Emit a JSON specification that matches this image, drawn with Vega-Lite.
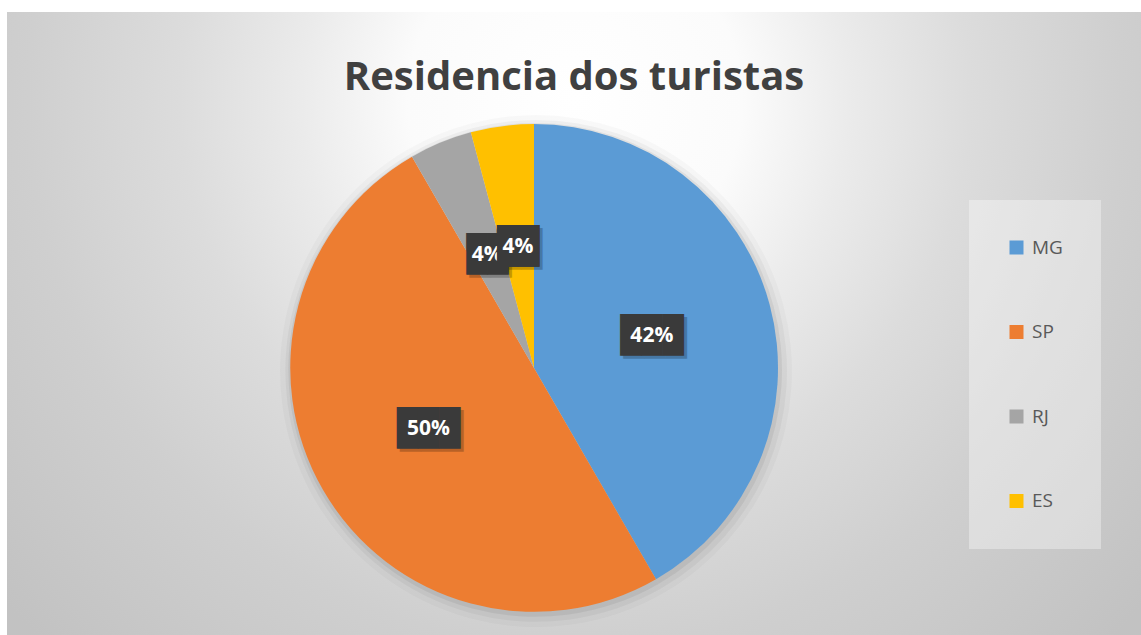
{
  "$schema": "https://vega.github.io/schema/vega-lite/v6.json",
  "width": 1134,
  "height": 623,
  "padding": {"left": 7, "top": 12, "right": 0, "bottom": 0},
  "background": "#ffffff",
  "config": {"view": {"stroke": null}},
  "title": {
    "text": "Residencia dos turistas",
    "font": "Open Sans",
    "fontSize": 40,
    "fontWeight": "bold",
    "color": "#404040",
    "anchor": "middle",
    "frame": "group",
    "offset": -118,
    "baseline": "alphabetic"
  },
  "data": {
    "values": [
      {"estado": "MG", "n": 10, "ord": 1, "label": "42%"},
      {"estado": "SP", "n": 12, "ord": 2, "label": "50%"},
      {"estado": "RJ", "n": 1, "ord": 3, "label": "4%"},
      {"estado": "ES", "n": 1, "ord": 4, "label": "4%"}
    ]
  },
  "layer": [
    {
      "data": {"values": [{"bg": 1}]},
      "mark": {
        "type": "rect",
        "fill": {
          "gradient": "radial",
          "x1": 0.5009, "y1": 0.3029, "r1": 0,
          "x2": 0.5009, "y2": 0.3029, "r2": 0.67,
          "stops": [
            {"offset": 0, "color": "#ffffff"},
            {"offset": 0.22, "color": "#fbfbfb"},
            {"offset": 0.36, "color": "#ebebeb"},
            {"offset": 0.52, "color": "#dcdcdc"},
            {"offset": 0.72, "color": "#cfcfcf"},
            {"offset": 1, "color": "#c2c2c2"}
          ]
        }
      },
      "encoding": {}
    },
    {
      "mark": {"type": "arc", "outerRadius": 256, "x": 529, "y": 359, "fill": "#000000", "opacity": 0.025},
      "encoding": {
        "theta": {"field": "n", "type": "quantitative", "stack": true},
        "order": {"field": "ord"}
      }
    },
    {
      "mark": {"type": "arc", "outerRadius": 251, "x": 529, "y": 359, "fill": "#000000", "opacity": 0.04},
      "encoding": {
        "theta": {"field": "n", "type": "quantitative", "stack": true},
        "order": {"field": "ord"}
      }
    },
    {
      "mark": {"type": "arc", "outerRadius": 247, "x": 528, "y": 358, "fill": "#000000", "opacity": 0.06},
      "encoding": {
        "theta": {"field": "n", "type": "quantitative", "stack": true},
        "order": {"field": "ord"}
      }
    },
    {
      "mark": {"type": "arc", "outerRadius": 244, "x": 527, "y": 356},
      "encoding": {
        "theta": {"field": "n", "type": "quantitative", "stack": true},
        "order": {"field": "ord"},
        "color": {
          "field": "estado",
          "type": "nominal",
          "scale": {"domain": ["MG", "SP", "RJ", "ES"], "range": ["#5B9BD5", "#ED7D31", "#A5A5A5", "#FFC000"]},
          "legend": {
            "orient": "none",
            "legendX": 962,
            "legendY": 188,
            "title": null,
            "fillColor": "rgba(255,255,255,0.35)",
            "padding": 38,
            "rowPadding": 64.5,
            "symbolType": "square",
            "symbolSize": 196,
            "symbolStrokeWidth": 0,
            "labelFont": "Open Sans",
            "labelFontSize": 19,
            "labelColor": "#595959",
            "labelOffset": 6
          }
        }
      }
    },
    {
      "mark": {"type": "text", "font": "DejaVu Sans Mono", "fontSize": 35, "color": "#000000", "opacity": 0.22, "align": "center", "baseline": "middle", "dx": 3, "dy": 3, "x": 527, "y": 356},
      "encoding": {
        "theta": {"field": "n", "type": "quantitative", "stack": true},
        "order": {"field": "ord"},
        "radius": {"value": 122},
        "text": {"condition": {"test": "datum.n >= 10", "value": "███"}, "value": "██"}
      }
    },
    {
      "mark": {"type": "text", "font": "DejaVu Sans Mono", "fontSize": 35, "color": "#3a3a3a", "align": "center", "baseline": "middle", "x": 527, "y": 356},
      "encoding": {
        "theta": {"field": "n", "type": "quantitative", "stack": true},
        "order": {"field": "ord"},
        "radius": {"value": 122},
        "text": {"condition": {"test": "datum.n >= 10", "value": "███"}, "value": "██"}
      }
    },
    {
      "mark": {"type": "text", "font": "Open Sans", "fontSize": 21, "fontWeight": "bold", "color": "#ffffff", "align": "center", "baseline": "middle", "x": 527, "y": 356},
      "encoding": {
        "theta": {"field": "n", "type": "quantitative", "stack": true},
        "order": {"field": "ord"},
        "radius": {"value": 122},
        "text": {"field": "label"}
      }
    },
    {
      "mark": {"type": "text", "font": "DejaVu Sans Mono", "fontSize": 35, "color": "#3a3a3a", "align": "center", "baseline": "middle", "x": 527, "y": 356},
      "encoding": {
        "theta": {"field": "n", "type": "quantitative", "stack": true},
        "order": {"field": "ord"},
        "radius": {"value": 122},
        "opacity": {"condition": {"test": "datum.estado === 'ES'", "value": 1}, "value": 0},
        "text": {"value": "██"}
      }
    },
    {
      "mark": {"type": "text", "font": "Open Sans", "fontSize": 21, "fontWeight": "bold", "color": "#ffffff", "align": "center", "baseline": "middle", "x": 527, "y": 356},
      "encoding": {
        "theta": {"field": "n", "type": "quantitative", "stack": true},
        "order": {"field": "ord"},
        "radius": {"value": 122},
        "opacity": {"condition": {"test": "datum.estado === 'ES'", "value": 1}, "value": 0},
        "text": {"field": "label"}
      }
    }
  ]
}
